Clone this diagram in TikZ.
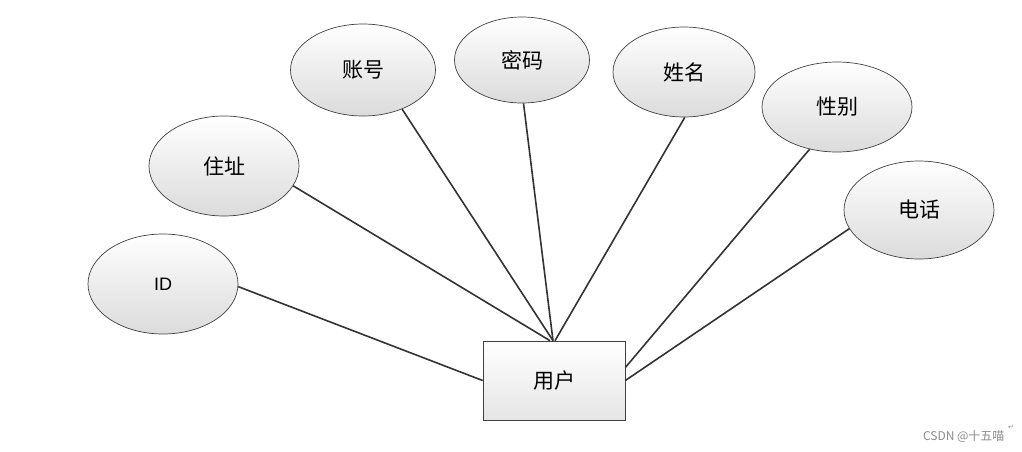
\documentclass[tikz,border=0pt]{standalone}
\usepackage{fontspec}
\usetikzlibrary{shapes.geometric}
\setmainfont{Liberation Sans}
\newfontfamily\cjk{Noto Sans CJK SC}
\newfontfamily\dv{DejaVu Sans}
\begin{document}
\begin{tikzpicture}[x=1pt,y=-1pt,
  ell/.style={draw=black!75,line width=0.7pt,ellipse,top color=white,bottom color=black!14,inner sep=0pt,font=\cjk\fontsize{21}{21}\selectfont},
  link/.style={draw=black!80,line width=1.6pt}]
\useasboundingbox (0,0) rectangle (1022,451);
\node[draw=black!75,line width=0.7pt,top color=white,bottom color=black!10,minimum width=142pt,minimum height=79pt,font=\cjk\fontsize{21}{21}\selectfont] (u) at (554,380.5) {用户};
\node[ell,minimum width=150pt,minimum height=100pt,font=\fontsize{18}{18}\selectfont] (id) at (163,284) {ID};
\node[ell,minimum width=150pt,minimum height=100pt] (zz) at (224,166) {住址};
\node[ell,minimum width=145pt,minimum height=92pt] (zh) at (363,70) {账号};
\node[ell,minimum width=135pt,minimum height=86pt] (mm) at (522,60) {密码};
\node[ell,minimum width=142pt,minimum height=90pt] (xm) at (684,72) {姓名};
\node[ell,minimum width=150pt,minimum height=90pt] (xb) at (837,107) {性别};
\node[ell,minimum width=150pt,minimum height=98pt] (dh) at (919,210) {电话};
\coordinate (a1) at ([xshift=-4pt]u.north);
\coordinate (a2) at ([xshift=-1pt]u.north);
\coordinate (a3) at ([xshift=1pt]u.north);
\coordinate (e1) at ([yshift=13pt]u.east);
\path[link] (id.-2) -- (u.west);
\path[link] (zz.-16) -- (a1);
\path[link] (zh.-45) -- (a2);
\path[link] (mm.-88) -- (a2);
\path[link] (xm.-89) -- (a3);
\path[link] (xb.-123) -- (e1);
\path[link] (dh.-165) -- (u.east);
\node[text=black!45,font=\cjk\fontsize{12}{12}\selectfont,anchor=east] (wm) at (1008,436) {CSDN @十五喵};
\node[text=black!45,font=\dv\fontsize{7}{7}\selectfont] (rt) at (1011,427) {↵};
\end{tikzpicture}
\end{document}
